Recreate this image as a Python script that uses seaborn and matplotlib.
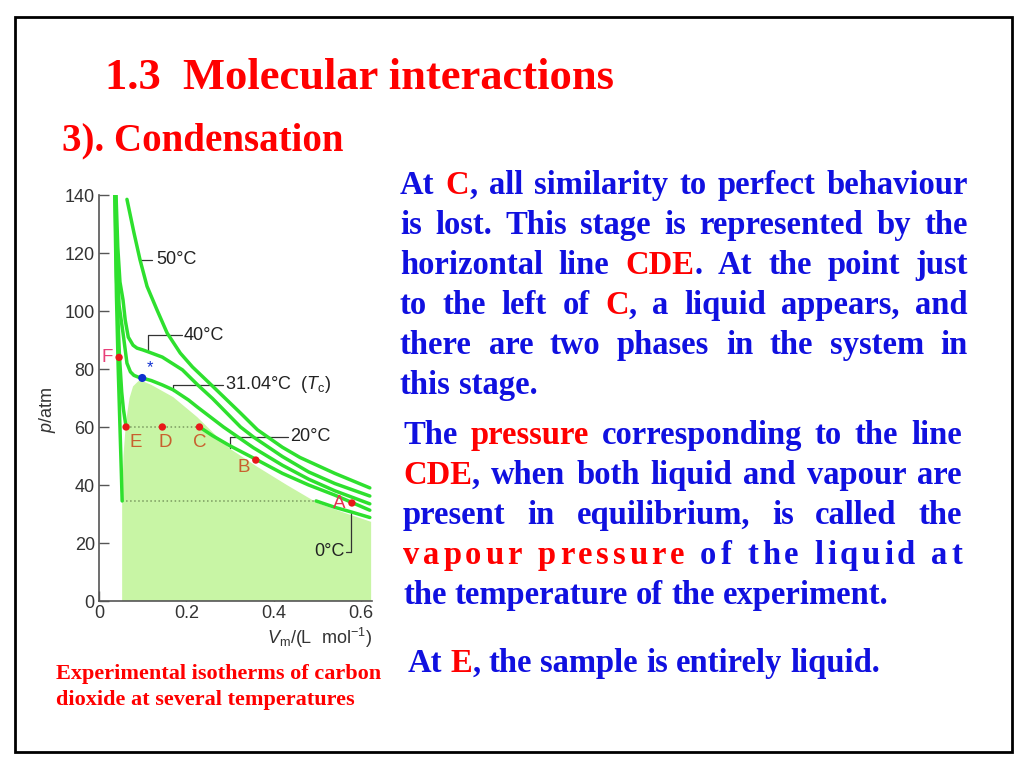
import matplotlib
matplotlib.use("Agg")
import matplotlib.pyplot as plt
import seaborn as sns
import pandas as pd
from matplotlib.patches import Rectangle

## Isotherms of CO2, V in L/mol, p in atm
iso50_v = [0.064, 0.080, 0.094, 0.110, 0.133, 0.156, 0.186, 0.214, 0.262, 0.324, 0.363, 0.42, 0.46, 0.54, 0.62]
iso50_p = [138.5, 127.0, 117.6, 108.5, 100.3, 92.4, 85.5, 80.7, 73.8, 64.8, 59.0, 53.0, 49.5, 44.0, 39.0]

iso40_v = [0.039, 0.043, 0.048, 0.055, 0.060, 0.067, 0.078, 0.087, 0.100, 0.113, 0.145, 0.191, 0.226, 0.26, 0.324, 0.354, 0.42, 0.48, 0.54, 0.62]
iso40_p = [140.0, 122.0, 110.0, 103.8, 96.9, 91.0, 88.2, 87.2, 86.6, 85.9, 84.1, 79.7, 74.5, 69.8, 60.0, 56.5, 49.8, 44.5, 40.5, 36.2]

iso31_v = [0.038, 0.041, 0.046, 0.055, 0.064, 0.072, 0.080, 0.090, 0.099, 0.12, 0.145, 0.170, 0.205, 0.225, 0.285, 0.354, 0.42, 0.48, 0.54, 0.62]
iso31_p = [140.0, 118.0, 102.0, 92.4, 82.0, 79.0, 77.8, 77.2, 76.9, 76.0, 74.5, 72.8, 69.3, 66.9, 60.0, 52.8, 46.8, 42.0, 38.0, 33.5]

iso20_liq_v = [0.037, 0.040, 0.044, 0.047, 0.052, 0.056, 0.062]
iso20_liq_p = [140.0, 112.0, 95.0, 84.0, 72.0, 66.0, 60.0]
iso20_gas_v = [0.23, 0.26, 0.30, 0.36, 0.42, 0.48, 0.54, 0.62]
iso20_gas_p = [60.0, 57.0, 53.5, 48.8, 44.0, 40.0, 36.5, 31.3]

iso0_liq_v = [0.036, 0.040, 0.044, 0.048, 0.051, 0.053]
iso0_liq_p = [140.0, 105.0, 80.0, 60.0, 45.0, 34.5]
iso0_gas_v = [0.497, 0.54, 0.58, 0.62]
iso0_gas_p = [34.5, 32.3, 30.6, 28.8]

# two-phase region (shaded)
dome_v = [0.053, 0.053, 0.056, 0.060, 0.064, 0.070, 0.078, 0.090, 0.100, 0.120, 0.170, 0.225, 0.271, 0.300, 0.360, 0.430, 0.500, 0.560, 0.623, 0.623]
dome_p = [0.0, 35.0, 50.0, 58.0, 64.0, 70.0, 74.0, 75.8, 75.8, 74.5, 70.3, 63.4, 56.6, 52.5, 46.5, 40.0, 33.8, 30.5, 27.3, 0.0]

# tie lines
tie_v = [[0.062, 0.23], [0.053, 0.497]]
tie_p = [[60.0, 60.0], [34.5, 34.5]]

# labelled points
pt_names = ["F", "E", "D", "C", "B", "A"]
pt_v = [0.046, 0.062, 0.145, 0.230, 0.359, 0.579]
pt_p = [84.0, 60.0, 60.0, 60.0, 48.6, 33.8]
crit_v = [0.099]
crit_p = [76.9]

W, H = 1030, 770
GREEN = "#2ee02e"
BLUE = "#1010e0"
RED = "#ff0000"

sns.set_style("ticks")
plt.rcParams["font.family"] = ["Liberation Sans", "DejaVu Sans"]
plt.rcParams["mathtext.fontset"] = "custom"
plt.rcParams["mathtext.rm"] = "Liberation Sans"
plt.rcParams["mathtext.it"] = "Liberation Sans:italic"
plt.rcParams["xtick.direction"] = "in"
plt.rcParams["ytick.direction"] = "in"

fig = plt.figure(figsize=(W / 100, H / 100), dpi=100)
fig.patch.set_facecolor("white")
renderer = fig.canvas.get_renderer()

# slide frame
fig.patches.append(Rectangle((15 / W, 1 - 752 / H), (1012 - 15) / W, (752 - 17) / H,
                             transform=fig.transFigure, fill=False, ec="black", lw=2))

ax = fig.add_axes([99 / W, 1 - 601 / H, (372 - 99) / W, (601 - 195) / H])

ax.fill(dome_v, dome_p, color="#c8f5a5", lw=0, zorder=1)

for v, p in zip(tie_v, tie_p):
    ax.plot(v, p, ls=":", color="#7a9a60", lw=1.1, zorder=2)

curves = [(iso50_v, iso50_p), (iso40_v, iso40_p), (iso31_v, iso31_p),
          (iso20_liq_v, iso20_liq_p), (iso20_gas_v, iso20_gas_p),
          (iso0_liq_v, iso0_liq_p), (iso0_gas_v, iso0_gas_p)]
for v, p in curves:
    sns.lineplot(x=v, y=p, sort=False, estimator=None, color=GREEN, lw=2.5, ax=ax, zorder=3)

sns.scatterplot(x=pt_v, y=pt_p, color="#e81818", s=28, edgecolor="none", ax=ax, zorder=5)
sns.scatterplot(x=crit_v, y=crit_p, color="#1030d0", s=34, edgecolor="none", ax=ax, zorder=5)
ax.text(0.117, 80.5, "*", color="#1030d0", fontsize=12, ha="center", va="center")

# point letters
lab_pos = {"F": (0.018, 84.1), "E": (0.083, 54.5), "D": (0.152, 54.5), "C": (0.230, 54.5),
           "B": (0.331, 46.0), "A": (0.549, 33.6)}
lab_col = {"F": "#e8407a", "E": "#c8602e", "D": "#c8602e", "C": "#c8602e", "B": "#c8602e", "A": "#e83050"}
for n in pt_names:
    x, y = lab_pos[n]
    ax.text(x, y, n, color=lab_col[n], fontsize=13.5, ha="center", va="center")

# isotherm labels with leaders
lead = dict(color="#333333", lw=0.9)
ax.plot([0.094, 0.122], [117.6, 117.6], **lead)
ax.text(0.131, 117.6, "50°C", fontsize=13, va="center", color="#222222")
ax.plot([0.113, 0.113, 0.189], [85.9, 91.7, 91.7], **lead)
ax.text(0.194, 91.7, "40°C", fontsize=13, va="center", color="#222222")
ax.plot([0.170, 0.170, 0.283], [72.4, 74.5, 74.5], **lead)
ax.text(0.288, 74.5, "31.04°C  ($T_\\mathrm{c}$)", fontsize=13, va="center", color="#222222")
ax.plot([0.301, 0.301, 0.432], [52.8, 56.6, 56.6], **lead)
ax.text(0.437, 56.6, "20°C", fontsize=13, va="center", color="#222222")
ax.plot([0.577, 0.577, 0.566], [30.7, 16.9, 16.9], **lead)
ax.text(0.562, 16.9, "0°C", fontsize=13, va="center", ha="right", color="#222222")

ax.set_xlim(0, 0.625)
ax.set_ylim(0, 140)
ax.set_xticks([0, 0.2, 0.4, 0.6])
ax.set_xticklabels(["0", "0.2", "0.4", "0.6"])
ax.set_yticks(range(0, 141, 20))
ax.tick_params(axis="both", which="major", direction="in", length=7, width=1, pad=3,
               color="#555555", labelsize=13, labelcolor="#333333")
sns.despine(ax=ax)
for s in ["left", "bottom"]:
    ax.spines[s].set_color("#555555")
    ax.spines[s].set_linewidth(1.2)
ax.set_ylabel("$p$/atm", fontsize=13, color="#333333")
ax.yaxis.set_label_coords(-0.15, 0.47)
ax.set_xlabel("$V_\\mathrm{m}$/(L  mol$^{-1}$)", fontsize=13, color="#333333", loc="right", labelpad=3)

# ---- slide text ----
SERIF = ["Liberation Serif", "DejaVu Serif"]


def ftext(x, y, s, **kw):
    return fig.text(x / W, 1 - y / H, s, family=SERIF, fontweight="bold", va="baseline", **kw)


ftext(105, 89, "1.3  Molecular interactions", fontsize=32, color=RED)
ftext(62, 150, "3). Condensation", fontsize=28, color=RED)
ftext(56, 679, "Experimental isotherms of carbon", fontsize=16, color=RED)
ftext(56, 705, "dioxide at several temperatures", fontsize=16, color=RED)


def parse(line):
    # {..} marks red text; returns list of words, each a list of (text, color)
    words = []
    red = False
    cur, seg = [], ""
    for ch in line:
        if ch in "{}":
            if seg:
                cur.append((seg, RED if red else BLUE))
            seg = ""
            red = ch == "{"
        elif ch == " ":
            if seg:
                cur.append((seg, RED if red else BLUE))
            seg = ""
            if cur:
                words.append(cur)
            cur = []
        else:
            seg += ch
    if seg:
        cur.append((seg, RED if red else BLUE))
    if cur:
        words.append(cur)
    return words


FS = 23.5


def width(s):
    t = fig.text(0, 0, s, family=SERIF, fontweight="bold", fontsize=FS)
    w = t.get_window_extent(renderer).width
    t.remove()
    return w


SPACE = width("a a") - width("aa")


def body_line(y, line, x0, x1=None, chars=False):
    words = parse(line)
    if chars:
        toks = []
        for i, wd in enumerate(words):
            if i:
                toks.append((" ", BLUE))
            for s, c in wd:
                toks.extend((ch, c) for ch in s)
        ws = [SPACE if s == " " else width(s) for s, c in toks]
        gap = (x1 - x0 - sum(ws)) / (len(toks) - 1)
        x = x0
        for (s, c), w in zip(toks, ws):
            if s != " ":
                ftext(x, y, s, fontsize=FS, color=c)
            x += w + gap
        return
    ws = [[width(s) for s, c in wd] for wd in words]
    tot = sum(sum(w) for w in ws)
    gap = SPACE if x1 is None else (x1 - x0 - tot) / (len(words) - 1)
    x = x0
    for wd, wl in zip(words, ws):
        for (s, c), w in zip(wd, wl):
            ftext(x, y, s, fontsize=FS, color=c)
            x += w
        x += gap


para1 = ["At {C}, all similarity to perfect behaviour",
         "is lost. This stage is represented by the",
         "horizontal line {CDE}. At the point just",
         "to the left of {C}, a liquid appears, and",
         "there are two phases in the system in",
         "this stage."]
for i, ln in enumerate(para1):
    body_line(194 + 40 * i, ln, 400, None if i == len(para1) - 1 else 968)

para2 = ["The {pressure} corresponding to the line",
         "{CDE}, when both liquid and vapour are",
         "present in equilibrium, is called the",
         "{vapour pressure} of the liquid at",
         "the temperature of the experiment."]
for i, ln in enumerate(para2):
    if i == 3:
        body_line(444 + 40 * i, ln, 403, 962, chars=True)
    else:
        body_line(444 + 40 * i, ln, 403, None if i == len(para2) - 1 else 962)

body_line(672, "At {E}, the sample is entirely liquid.", 408)

fig.savefig("out.png", dpi=100)
